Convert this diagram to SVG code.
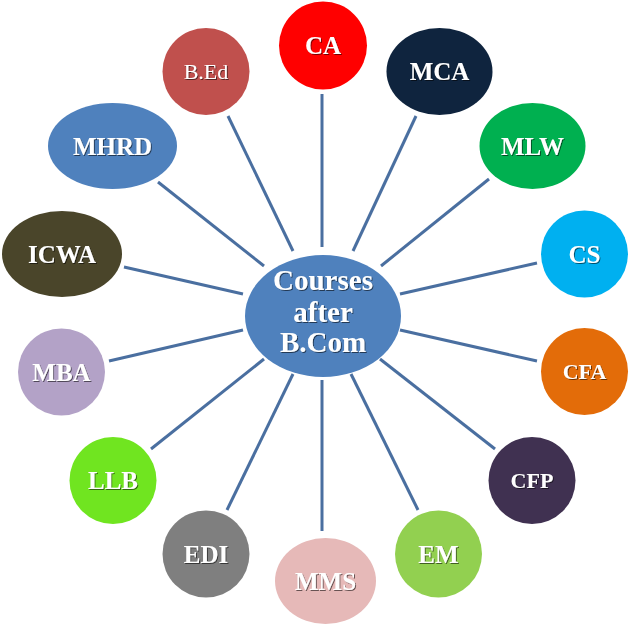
<svg xmlns="http://www.w3.org/2000/svg" width="630" height="626" viewBox="0 0 630 626">
<defs>
<filter id="ts" x="-20%" y="-20%" width="140%" height="140%">
<feDropShadow dx="1" dy="1" stdDeviation="0.6" flood-color="#000" flood-opacity="0.55"/>
</filter>
<style>
.lbl{font-family:"Liberation Serif","Times New Roman",serif;font-weight:bold;font-size:25px;fill:#fff;text-anchor:middle;filter:url(#ts)}
.sm{font-size:22px}
.reg{font-weight:normal}
.ctr{font-size:29px}
.conn line{stroke:#4a6fa0;stroke-width:3;stroke-linecap:butt}
</style>
</defs>
<rect width="630" height="626" fill="#fff"/>
<g id="connectors" class="conn">
<line x1="228" y1="116" x2="293" y2="251"/>
<line x1="158" y1="182" x2="264" y2="266"/>
<line x1="124" y1="267" x2="243" y2="294"/>
<line x1="322" y1="94" x2="322" y2="247"/>
<line x1="416" y1="116" x2="353" y2="251"/>
<line x1="489" y1="179" x2="381" y2="266"/>
<line x1="537" y1="263" x2="400" y2="294"/>
<line x1="109" y1="361" x2="243" y2="330"/>
<line x1="151" y1="449" x2="264" y2="359"/>
<line x1="227" y1="510" x2="293" y2="374"/>
<line x1="322" y1="380" x2="322" y2="531"/>
<line x1="418" y1="510" x2="351" y2="374"/>
<line x1="495" y1="449" x2="380" y2="359"/>
<line x1="537" y1="361" x2="400" y2="330"/>
</g>
<g id="center">
<ellipse cx="323" cy="316" rx="78" ry="61" fill="#4f81bd"/>
<text class="lbl ctr" x="323" y="290">Courses</text>
<text class="lbl ctr" x="323" y="322">after</text>
<text class="lbl ctr" x="323" y="352">B.Com</text>
</g>
<g id="node-ca"><circle cx="323" cy="45.5" r="44" fill="#ff0000"/><text class="lbl" x="323" y="54">CA</text></g>
<g id="node-mca"><ellipse cx="439.5" cy="71.5" rx="53" ry="43.5" fill="#0f243e"/><text class="lbl" x="439.5" y="80">MCA</text></g>
<g id="node-mlw"><ellipse cx="532.5" cy="146" rx="53" ry="43" fill="#00b050"/><text class="lbl" x="532.5" y="154.5">MLW</text></g>
<g id="node-cs"><circle cx="584.5" cy="254" r="43.5" fill="#00b0f0"/><text class="lbl" x="584.5" y="262.5">CS</text></g>
<g id="node-cfa"><circle cx="584.5" cy="371.5" r="43.5" fill="#e36c09"/><text class="lbl sm" x="584.5" y="379">CFA</text></g>
<g id="node-cfp"><circle cx="532" cy="480.5" r="43.5" fill="#403151"/><text class="lbl sm" x="532" y="488">CFP</text></g>
<g id="node-em"><circle cx="438.5" cy="554" r="43.5" fill="#92d050"/><text class="lbl" x="438.5" y="562.5">EM</text></g>
<g id="node-mms"><ellipse cx="325.5" cy="581" rx="50.5" ry="43" fill="#e6b9b8"/><text class="lbl" x="325.5" y="589.5">MMS</text></g>
<g id="node-edi"><circle cx="206" cy="554" r="43.5" fill="#7f7f7f"/><text class="lbl" x="206" y="562.5">EDI</text></g>
<g id="node-llb"><circle cx="113" cy="480.5" r="43.5" fill="#70e520"/><text class="lbl" x="113" y="489">LLB</text></g>
<g id="node-mba"><circle cx="61.5" cy="372" r="43.5" fill="#b3a2c7"/><text class="lbl" x="61.5" y="380.5">MBA</text></g>
<g id="node-icwa"><ellipse cx="62" cy="254" rx="60" ry="43" fill="#4a452a"/><text class="lbl" x="62" y="262.5">ICWA</text></g>
<g id="node-mhrd"><ellipse cx="112.5" cy="146" rx="64.5" ry="43" fill="#4f81bd"/><text class="lbl" x="112.5" y="154.5">MHRD</text></g>
<g id="node-bed"><circle cx="206" cy="71.5" r="43.5" fill="#c0504d"/><text class="lbl sm reg" x="206" y="79">B.Ed</text></g>
</svg>
